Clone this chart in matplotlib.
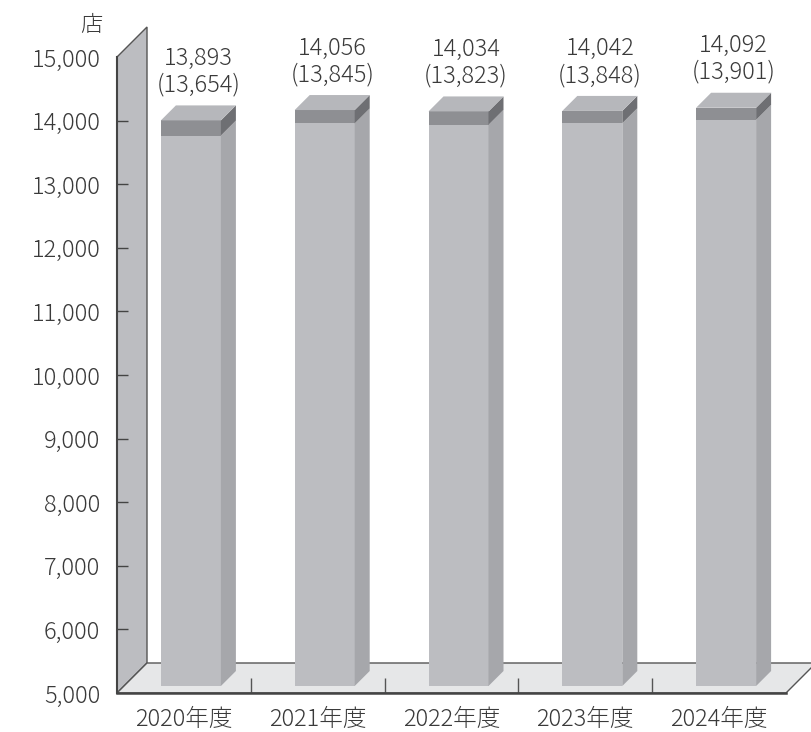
# -*- coding: utf-8 -*-
import matplotlib
matplotlib.use('Agg')
import matplotlib.pyplot as plt
from matplotlib.patches import Polygon

plt.rcParams['font.family'] = ['Noto Sans CJK JP', 'DejaVu Sans']
plt.rcParams['font.weight'] = 'light'

years = ['2020年度', '2021年度', '2022年度', '2023年度', '2024年度']
totals = [13893, 14056, 14034, 14042, 14092]      # 上段の数値
inner = [13654, 13845, 13823, 13848, 13901]       # （ ）内の数値
yticks = [5000, 6000, 7000, 8000, 9000, 10000, 11000, 12000, 13000, 14000, 15000]

W, H = 811, 732
fig = plt.figure(figsize=(W / 100, H / 100), dpi=100)
ax = fig.add_axes([117 / W, 39 / H, 669 / W, 636 / H])
ax.set_xlim(-0.5, 4.5)
ax.set_ylim(5000, 15000)

# 1ピクセルあたりのデータ単位（奥行き表現用）
ux = 5.0 / 669
uy = 10000.0 / 636
depth = 30          # 壁・床の奥行き(px)
d0, d1 = 7, 22      # 棒の前面・背面の奥行き(px)
hw = 30 * ux        # 棒の半幅

txt = '#3a3a3a'
edge = '#555555'

# 左の壁
wall = Polygon([(-0.5, 5000), (-0.5, 15000),
                (-0.5 + depth * ux, 15000 + depth * uy),
                (-0.5 + depth * ux, 5000 + depth * uy)],
               closed=True, fc='#bcbdc1', ec=edge, lw=1.0, zorder=1, clip_on=False)
ax.add_patch(wall)

# 床
floor = Polygon([(-0.5, 5000), (4.5, 5000),
                 (4.5 + depth * ux, 5000 + depth * uy),
                 (-0.5 + depth * ux, 5000 + depth * uy)],
                closed=True, fc='#e6e7e8', ec=edge, lw=1.0, zorder=1, clip_on=False)
ax.add_patch(floor)


def sh(x, y, d):
    return (x + d * ux, y + d * uy)


for i in range(len(years)):
    t, l = totals[i], inner[i]
    xl, xr = i - hw, i + hw
    faces = [
        ([sh(xl, 5000, d0), sh(xr, 5000, d0), sh(xr, l, d0), sh(xl, l, d0)], '#bcbdc1'),
        ([sh(xl, l, d0), sh(xr, l, d0), sh(xr, t, d0), sh(xl, t, d0)], '#8e8f93'),
        ([sh(xr, 5000, d0), sh(xr, l, d0), sh(xr, l, d1), sh(xr, 5000, d1)], '#a6a7ab'),
        ([sh(xr, l, d0), sh(xr, t, d0), sh(xr, t, d1), sh(xr, l, d1)], '#6e6f73'),
        ([sh(xl, t, d0), sh(xr, t, d0), sh(xr, t, d1), sh(xl, t, d1)], '#b6b7bb'),
    ]
    for pts, c in faces:
        ax.add_patch(Polygon(pts, closed=True, fc=c, ec='none', zorder=3, clip_on=False))
    tx, ty = sh(i, t, d0 + 7.5)
    ax.text(tx, t + (d1 + 8) * uy, f'{t:,}\n({l:,})', ha='center', va='bottom',
            fontsize=17, color=txt, linespacing=1.08, zorder=4)

# 軸
for s in ['top', 'right']:
    ax.spines[s].set_visible(False)
ax.spines['left'].set_color('#444444')
ax.spines['left'].set_linewidth(1.5)
ax.spines['bottom'].set_color('#444444')
ax.spines['bottom'].set_linewidth(1.8)
ax.spines['left'].set_zorder(2)
ax.spines['bottom'].set_zorder(2)

ax.set_yticks(yticks)
ax.set_yticklabels([f'{v:,}' for v in yticks])
ax.tick_params(axis='y', direction='in', length=8, width=1.0, color='#444444',
               pad=12, labelsize=17, labelcolor=txt)
ticks = ax.yaxis.get_major_ticks()
ticks[0].tick1line.set_visible(False)
ticks[-1].tick1line.set_visible(False)

ax.set_xticks(range(len(years)))
ax.set_xticklabels(years)
ax.set_xticks([0.5, 1.5, 2.5, 3.5], minor=True)
ax.tick_params(axis='x', which='major', length=0, pad=10, labelsize=17, labelcolor=txt)
ax.tick_params(axis='x', which='minor', direction='in', length=11, width=1.0, color='#555555')

fig.text(91 / W, 1 - 25 / H, '店', ha='center', va='center', fontsize=16, color=txt)

fig.savefig('out.png', dpi=100)
